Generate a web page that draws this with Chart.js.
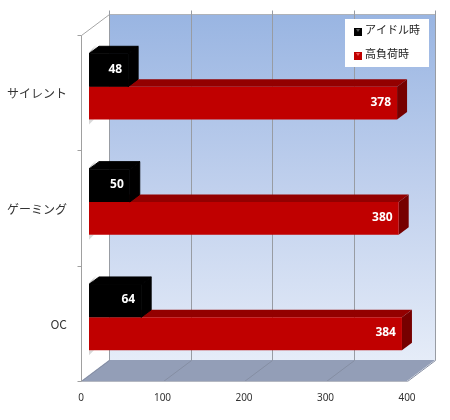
<!DOCTYPE html>
<html>
<head>
<meta charset="utf-8">
<style>
  html, body { margin: 0; padding: 0; background: #fff; }
  canvas { display: block; }
</style>
<script src="https://cdn.jsdelivr.net/npm/chart.js@4/dist/chart.umd.min.js"></script>
</head>
<body>
<canvas id="chart" width="450" height="420"></canvas>
<script>
const categories = ["サイレント", "ゲーミング", "OC"];
const idleValues = [48, 50, 64];
const loadValues = [378, 380, 384];
const seriesNames = ["アイドル時", "高負荷時"];

const jpFont = '"Noto Sans CJK JP", "Noto Sans", sans-serif';

function poly(ctx, pts, fill, seal) {
    ctx.beginPath();
    pts.forEach((p, i) => (i ? ctx.lineTo(p[0], p[1]) : ctx.moveTo(p[0], p[1])));
    ctx.closePath();
    ctx.fillStyle = fill;
    ctx.fill();
    // stroke over the antialiased seam between two faces
    if (seal) {
        ctx.strokeStyle = fill;
        ctx.lineWidth = 1;
        ctx.stroke();
    }
}

function line(ctx, x1, y1, x2, y2, color) {
    ctx.beginPath();
    ctx.moveTo(x1 + 0.5, y1 + 0.5);
    ctx.lineTo(x2 + 0.5, y2 + 0.5);
    ctx.strokeStyle = color;
    ctx.lineWidth = 1;
    ctx.stroke();
}

// Fake 3D box: the bars sit on the real scale, walls are offset from it
const wallsPlugin = {
    id: "walls",
    beforeDatasetsDraw(chart) {
        const ctx = chart.ctx;
        const xs = chart.scales.x;
        const area = chart.chartArea;
        const front = { dx: -8, dy: 6 };
        const back = { dx: 20, dy: -15 };
        const l = area.left, r = area.right, t = area.top, b = area.bottom;

        ctx.save();
        const g = ctx.createLinearGradient(0, t + back.dy, 0, b + back.dy);
        g.addColorStop(0, "#99b5e2");
        g.addColorStop(0.5, "#c0d0ed");
        g.addColorStop(1, "#e5ecf8");
        ctx.fillStyle = g;
        ctx.fillRect(l + back.dx, t + back.dy, r - l, b - t);

        // floor
        poly(ctx, [
            [l + front.dx, b + front.dy],
            [l + back.dx, b + back.dy],
            [r + back.dx, b + back.dy],
            [r + front.dx, b + front.dy],
        ], "#939eb7");

        // top edge and left wall edge
        line(ctx, l + back.dx, t + back.dy, r + back.dx, t + back.dy, "#aeb2b8");
        line(ctx, l + front.dx, t + front.dy, l + back.dx, t + back.dy, "#a6a6a6");
        line(ctx, l + back.dx, t + back.dy, l + back.dx, b + back.dy, "#a6a6a6");

        xs.ticks.forEach((tick) => {
            const x = Math.round(xs.getPixelForValue(tick.value));
            line(ctx, x + back.dx, t + back.dy - 4, x + back.dx, b + back.dy, "#989ca3");
            line(ctx, x + front.dx, b + front.dy, x + back.dx, b + back.dy, "#858ea3");
        });

        // front axis with its tick marks at the band edges
        const axisX = l + front.dx;
        line(ctx, axisX, t + front.dy, axisX, b + front.dy, "#a0a0a0");
        line(ctx, axisX, b + front.dy, r + front.dx, b + front.dy, "#b4b8c2");
        for (let i = 0; i <= categories.length; i++) {
            const y = Math.round(t + front.dy + (b - t) * i / categories.length);
            line(ctx, axisX - 4, y, axisX, y, "#a0a0a0");
        }
        ctx.restore();
    },
    // top and side faces go under the flat bar each dataset draws
    beforeDatasetDraw(chart, args) {
        const ctx = chart.ctx;
        const depthX = 10, depthY = -7.5;
        const isIdle = args.index === 0;
        const topFace = isIdle ? "#000000" : "#930000";
        const sideFace = isIdle ? "#000000" : "#760000";
        ctx.save();
        args.meta.data.forEach((bar) => {
            const yTop = bar.y - bar.height / 2;
            const yBot = bar.y + bar.height / 2;
            // soft shadow on the left wall
            const edge = isIdle ? yTop : yBot;
            const sg = ctx.createLinearGradient(bar.base, edge, bar.base + 9, edge - 8);
            sg.addColorStop(0, "rgba(70,70,70,0.8)");
            sg.addColorStop(1, "rgba(210,210,210,0)");
            if (isIdle) {
                poly(ctx, [[bar.base, edge - 1], [bar.base + 10, edge - 13], [bar.base + 11, edge - 7], [bar.base, edge + 1]], sg);
            } else {
                poly(ctx, [[bar.base, edge], [bar.base + 5, edge], [bar.base, edge + 5]], "rgba(190,190,190,0.6)");
            }
            poly(ctx, [
                [bar.base, yTop],
                [bar.base + depthX, yTop + depthY],
                [bar.x + depthX, yTop + depthY],
                [bar.x, yTop],
            ], topFace, isIdle);
            poly(ctx, [
                [bar.x, yTop],
                [bar.x + depthX, yTop + depthY],
                [bar.x + depthX, yBot + depthY],
                [bar.x, yBot],
            ], sideFace, isIdle);
        });
        ctx.restore();
    },
    afterDatasetsDraw(chart) {
        const ctx = chart.ctx;
        ctx.save();

        // value labels
        ctx.font = 'bold 12px "Open Sans", sans-serif';
        ctx.fillStyle = "#fff";
        ctx.textAlign = "right";
        ctx.textBaseline = "middle";
        chart.data.datasets.forEach((ds, di) => {
            chart.getDatasetMeta(di).data.forEach((bar, i) => {
                ctx.fillText(ds.data[i], bar.x - 6, bar.y - 1);
            });
        });

        // legend box
        ctx.fillStyle = "#fff";
        ctx.fillRect(345, 19, 84, 48);
        ctx.font = "11px " + jpFont;
        ctx.textAlign = "left";
        chart.data.datasets.forEach((ds, di) => {
            const y = 28 + di * 24;
            ctx.fillStyle = ds.backgroundColor;
            ctx.fillRect(354, y, 8, 8);
            ctx.fillStyle = di === 0 ? "#555" : "#ee5555";
            ctx.beginPath();
            ctx.moveTo(356, y + 1);
            ctx.lineTo(360, y + 1);
            ctx.lineTo(358, y + 4);
            ctx.fill();
            ctx.fillStyle = "#222";
            ctx.fillText(ds.label, 365, y + 2);
        });
        ctx.restore();
    },
};

new Chart(document.getElementById("chart"), {
    type: "bar",
    data: {
        labels: categories,
        datasets: [
            { label: seriesNames[0], data: idleValues, backgroundColor: "#000000" },
            { label: seriesNames[1], data: loadValues, backgroundColor: "#c00000" },
        ],
    },
    options: {
        indexAxis: "y",
        responsive: false,
        animation: false,
        layout: { padding: { top: 29, right: 35, left: 0, bottom: 0 } },
        categoryPercentage: 0.57,
        barPercentage: 1,
        scales: {
            x: {
                min: 0,
                max: 400,
                ticks: {
                    stepSize: 100,
                    maxRotation: 0,
                    labelOffset: -8,
                    padding: 9,
                    color: "#333",
                    font: { family: '"Noto Sans", sans-serif', size: 10 },
                },
                grid: { display: false },
                border: { display: false },
                afterFit(scale) { scale.height = 45; },
            },
            y: {
                ticks: {
                    labelOffset: 7,
                    padding: 14,
                    color: "#333",
                    font: { family: jpFont, size: 12 },
                },
                grid: { display: false },
                border: { display: false },
                afterFit(scale) { scale.width = 89; },
            },
        },
        plugins: {
            legend: { display: false },
            tooltip: { enabled: false },
        },
    },
    plugins: [wallsPlugin],
});
</script>
</body>
</html>
